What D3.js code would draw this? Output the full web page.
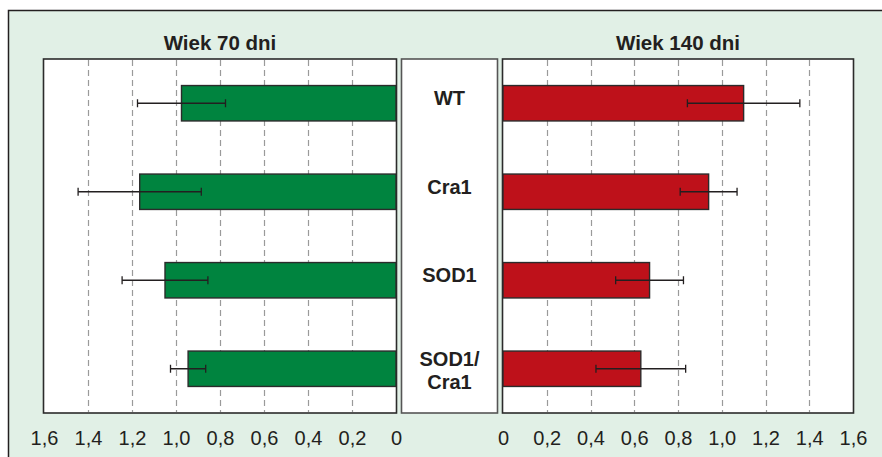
<!DOCTYPE html>
<html>
<head>
<meta charset="utf-8">
<script src="https://cdn.jsdelivr.net/npm/d3@7"></script>
<style>
  html, body { margin: 0; padding: 0; background: #ffffff; }
  svg { display: block; }
  text { font-family: "Liberation Sans", Arial, Helvetica, sans-serif; fill: #231f20; }
</style>
</head>
<body>
<svg id="chart" width="882" height="457"></svg>
<script>
// ---- data ----
const categories = ["WT", "Cra1", "SOD1", "SOD1/Cra1"];
const categoryLines = [["WT"], ["Cra1"], ["SOD1"], ["SOD1/", "Cra1"]];
const values70 = [0.975, 1.165, 1.05, 0.945];
const errors70 = [0.2, 0.28, 0.195, 0.08];
const values140 = [1.10, 0.94, 0.67, 0.63];
const errors140 = [0.257, 0.13, 0.155, 0.205];
const tickValues = [0, 0.2, 0.4, 0.6, 0.8, 1.0, 1.2, 1.4, 1.6];
const titles = ["Wiek 70 dni", "Wiek 140 dni"];

// ---- setup ----
const svg = d3.select("#chart");
const dark = "#231f20";
const green = "#00843f";
const red = "#be111a";
const bg = "#e1f0e6";

const plotTop = 59, plotBottom = 413;
const leftPanel = { x0: 43.5, x1: 396.5 };
const centerBox = { x0: 401, x1: 498 };
const rightPanel = { x0: 502.5, x1: 853.5 };

// outer background box
svg.append("rect")
  .attr("x", 8.5).attr("y", 10.5)
  .attr("width", 900).attr("height", 500)
  .attr("fill", bg).attr("stroke", dark).attr("stroke-width", 1.5);

const y = d3.scaleBand().domain(categories).range([plotTop, plotBottom])
  .paddingInner(0.6).paddingOuter(0.3);

const xL = d3.scaleLinear().domain([0, 1.6]).range([396, 44]);
const xR = d3.scaleLinear().domain([0, 1.6]).range([503, 853]);

const fmt = d => d === 0 ? "0" : d3.format(".1f")(d).replace(".", ",");

function panel(p, x, values, errors, color, title) {
  const g = svg.append("g");
  g.append("rect")
    .attr("x", p.x0).attr("y", plotTop)
    .attr("width", p.x1 - p.x0).attr("height", plotBottom - plotTop)
    .attr("fill", "#ffffff").attr("stroke", "#2b2b2b").attr("stroke-width", 1.6);

  // gridlines
  g.selectAll("line.grid")
    .data(tickValues.filter(t => t > 0 && t < 1.6))
    .join("line")
    .attr("class", "grid")
    .attr("x1", d => Math.round(x(d)) + 0.5).attr("x2", d => Math.round(x(d)) + 0.5)
    .attr("y1", plotTop + 1).attr("y2", plotBottom - 1)
    .attr("stroke", "#9a9a9a").attr("stroke-width", 1.2)
    .attr("stroke-dasharray", "6,4");

  // bars
  g.selectAll("rect.bar")
    .data(categories)
    .join("rect")
    .attr("class", "bar")
    .attr("x", (d, i) => Math.min(x(0), x(values[i])))
    .attr("width", (d, i) => Math.abs(x(values[i]) - x(0)))
    .attr("y", d => y(d))
    .attr("height", y.bandwidth())
    .attr("fill", color)
    .attr("stroke", "#2b2b2b").attr("stroke-width", 1.4);

  // error bars
  const eg = g.selectAll("g.err").data(categories).join("g").attr("class", "err");
  const cy = d => y(d) + y.bandwidth() / 2;
  eg.append("line")
    .attr("x1", (d, i) => x(values[i] - errors[i]))
    .attr("x2", (d, i) => x(values[i] + errors[i]))
    .attr("y1", cy).attr("y2", cy)
    .attr("stroke", dark).attr("stroke-width", 1.3);
  [-1, 1].forEach(s => {
    eg.append("line")
      .attr("x1", (d, i) => x(values[i] + s * errors[i]))
      .attr("x2", (d, i) => x(values[i] + s * errors[i]))
      .attr("y1", d => cy(d) - 4).attr("y2", d => cy(d) + 4)
      .attr("stroke", dark).attr("stroke-width", 1.3);
  });

  // axis
  const axis = d3.axisBottom(x).tickValues(tickValues).tickFormat(fmt).tickSize(0).tickPadding(0);
  const ag = svg.append("g").attr("transform", `translate(0, ${plotBottom})`).call(axis);
  ag.select(".domain").remove();
  ag.selectAll("text")
    .attr("y", 32).attr("dy", null)
    .style("font-size", "20px")
    .style("font-family", "'Liberation Sans', Arial, sans-serif")
    .attr("fill", dark);

  // title
  svg.append("text")
    .attr("x", (p.x0 + p.x1) / 2).attr("y", 50)
    .attr("text-anchor", "middle")
    .style("font-size", "20.5px").style("font-weight", "bold")
    .text(title);
}

panel(leftPanel, xL, values70, errors70, green, titles[0]);
panel(rightPanel, xR, values140, errors140, red, titles[1]);

// center box with category labels
svg.append("rect")
  .attr("x", centerBox.x0 + 0.5).attr("y", plotTop)
  .attr("width", centerBox.x1 - centerBox.x0 - 1).attr("height", plotBottom - plotTop)
  .attr("fill", "#ffffff").attr("stroke", "#555555").attr("stroke-width", 1.6);

const lg = svg.selectAll("text.cat").data(categories).join("text")
  .attr("class", "cat")
  .attr("text-anchor", "middle")
  .style("font-size", "20px").style("font-weight", "bold");
lg.each(function(d, i) {
  const lines = categoryLines[i];
  const c = y(d) + y.bandwidth() / 2;
  const lh = 23;
  const start = c + 2 - (lines.length - 1) * lh / 2;
  d3.select(this).selectAll("tspan").data(lines).join("tspan")
    .attr("x", (centerBox.x0 + centerBox.x1) / 2)
    .attr("y", (l, k) => start + k * lh + (lines.length > 1 ? 7 : 0))
    .text(l => l);
});
</script>
</body>
</html>
